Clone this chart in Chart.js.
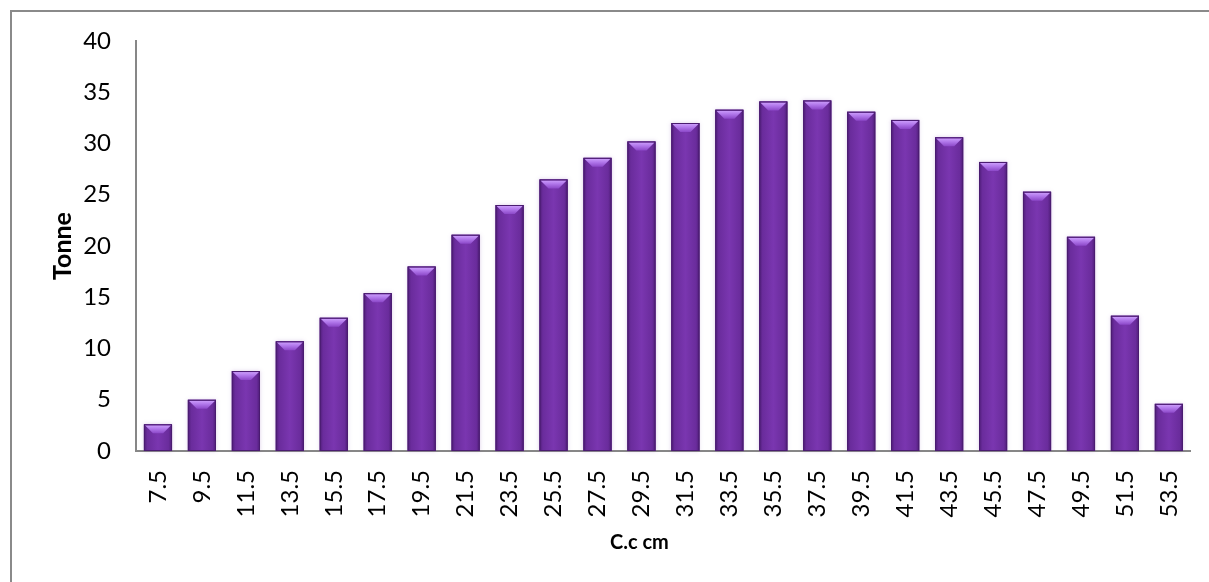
<!DOCTYPE html>
<html>
<head>
<meta charset="utf-8">
<script src="https://cdn.jsdelivr.net/npm/chart.js@4/dist/chart.umd.min.js"></script>
<style>
  html, body { margin: 0; padding: 0; background: #fff; overflow: hidden; }
  #frame { position: absolute; left: 10px; top: 10px; width: 1300px; height: 700px; border: 2px solid #8a8a8a; }
  #wrap { position: absolute; left: 0; top: 0; width: 1209px; height: 582px; }
</style>
</head>
<body>
<div id="frame"></div>
<div id="wrap"><canvas id="chart" width="1209" height="582"></canvas></div>
<script>
const labels = ['7.5', '9.5', '11.5', '13.5', '15.5', '17.5', '19.5', '21.5', '23.5', '25.5', '27.5', '29.5',
  '31.5', '33.5', '35.5', '37.5', '39.5', '41.5', '43.5', '45.5', '47.5', '49.5', '51.5', '53.5']
const tonnes = [2.6, 5.0, 7.8, 10.7, 13.0, 15.4, 18.0, 21.1, 24.0, 26.5, 28.6, 30.2,
  32.0, 33.3, 34.1, 34.2, 33.1, 32.3, 30.6, 28.2, 25.3, 20.9, 13.2, 4.6]
const yMax = 40
const yStep = 5
const xTitle = 'C.c cm'

// shading like the excel bevel: darker sides, light wedge on top
const bevel = {
  id: 'bevel',
  afterDatasetsDraw(chart) {
    const ctx = chart.ctx
    chart.getDatasetMeta(0).data.forEach(bar => {
      const l = bar.x - bar.width / 2
      const r = bar.x + bar.width / 2
      const t = bar.y
      const b = bar.base
      const g = ctx.createLinearGradient(l, 0, r, 0)
      g.addColorStop(0, '#4e1d77')
      g.addColorStop(0.12, '#6a2c9c')
      g.addColorStop(0.5, '#7a36b0')
      g.addColorStop(0.88, '#6a2c9c')
      g.addColorStop(1, '#4e1d77')
      ctx.save()
      ctx.shadowColor = 'rgba(120, 60, 170, 0.25)'
      ctx.shadowBlur = 4
      ctx.fillStyle = g
      ctx.fillRect(l, t, r - l, b - t)
      ctx.restore()
      ctx.save()
      const h = Math.min(9, (b - t) / 2)
      const tg = ctx.createLinearGradient(0, t, 0, t + h)
      tg.addColorStop(0, '#d2a6ff')
      tg.addColorStop(0.5, '#b076ea')
      tg.addColorStop(1, '#8c48c8')
      ctx.fillStyle = tg
      ctx.beginPath()
      ctx.moveTo(l + 1, t + 1)
      ctx.lineTo(r - 1, t + 1)
      ctx.lineTo(r - 9, t + h)
      ctx.lineTo(l + 9, t + h)
      ctx.closePath()
      ctx.fill()
      ctx.strokeStyle = '#4a1c70'
      ctx.lineWidth = 1
      ctx.strokeRect(l + 0.5, t + 0.5, r - l - 1, b - t - 1)
      ctx.restore()
    })
  }
}

// x title sits a bit left of the plot centre in the original
const xTitlePlugin = {
  id: 'xTitle',
  afterDraw(chart) {
    const { ctx, chartArea } = chart
    ctx.save()
    ctx.font = 'bold 20px Lato'
    ctx.fillStyle = '#000'
    ctx.textAlign = 'center'
    ctx.textBaseline = 'middle'
    ctx.fillText(xTitle, (chartArea.left + chartArea.right) / 2 - 24, chartArea.bottom + 92)
    ctx.restore()
  }
}

new Chart(document.getElementById('chart').getContext('2d'), {
  type: 'bar',
  data: {
    labels,
    datasets: [{
      label: 'Tonne',
      data: tonnes,
      backgroundColor: '#7030a0',
      categoryPercentage: 0.8,
      barPercentage: 0.8
    }]
  },
  options: {
    responsive: false,
    animation: false,
    layout: { padding: { left: 0, top: 41, right: 15, bottom: 0 } },
    plugins: { legend: { display: false }, tooltip: { enabled: false } },
    scales: {
      x: {
        grid: { display: false },
        border: { display: true, color: '#878787', width: 2 },
        ticks: {
          color: '#000',
          font: { family: 'Lato', size: 24 },
          maxRotation: 90,
          minRotation: 90,
          padding: 11
        },
        afterFit: (s) => { s.height = 131 }
      },
      y: {
        min: 0,
        max: yMax,
        grid: { display: false },
        border: { display: true, color: '#878787', width: 2 },
        ticks: {
          stepSize: yStep,
          color: '#000',
          font: { family: 'Lato', size: 24 },
          padding: 17
        },
        title: {
          display: true,
          text: 'Tonne',
          color: '#000',
          font: { family: 'Lato', size: 25, weight: 'bold' },
          padding: { top: 48, bottom: 48 }
        },
        afterFit: (s) => { s.width = 136 }
      }
    }
  },
  plugins: [bevel, xTitlePlugin]
})
</script>
</body>
</html>
